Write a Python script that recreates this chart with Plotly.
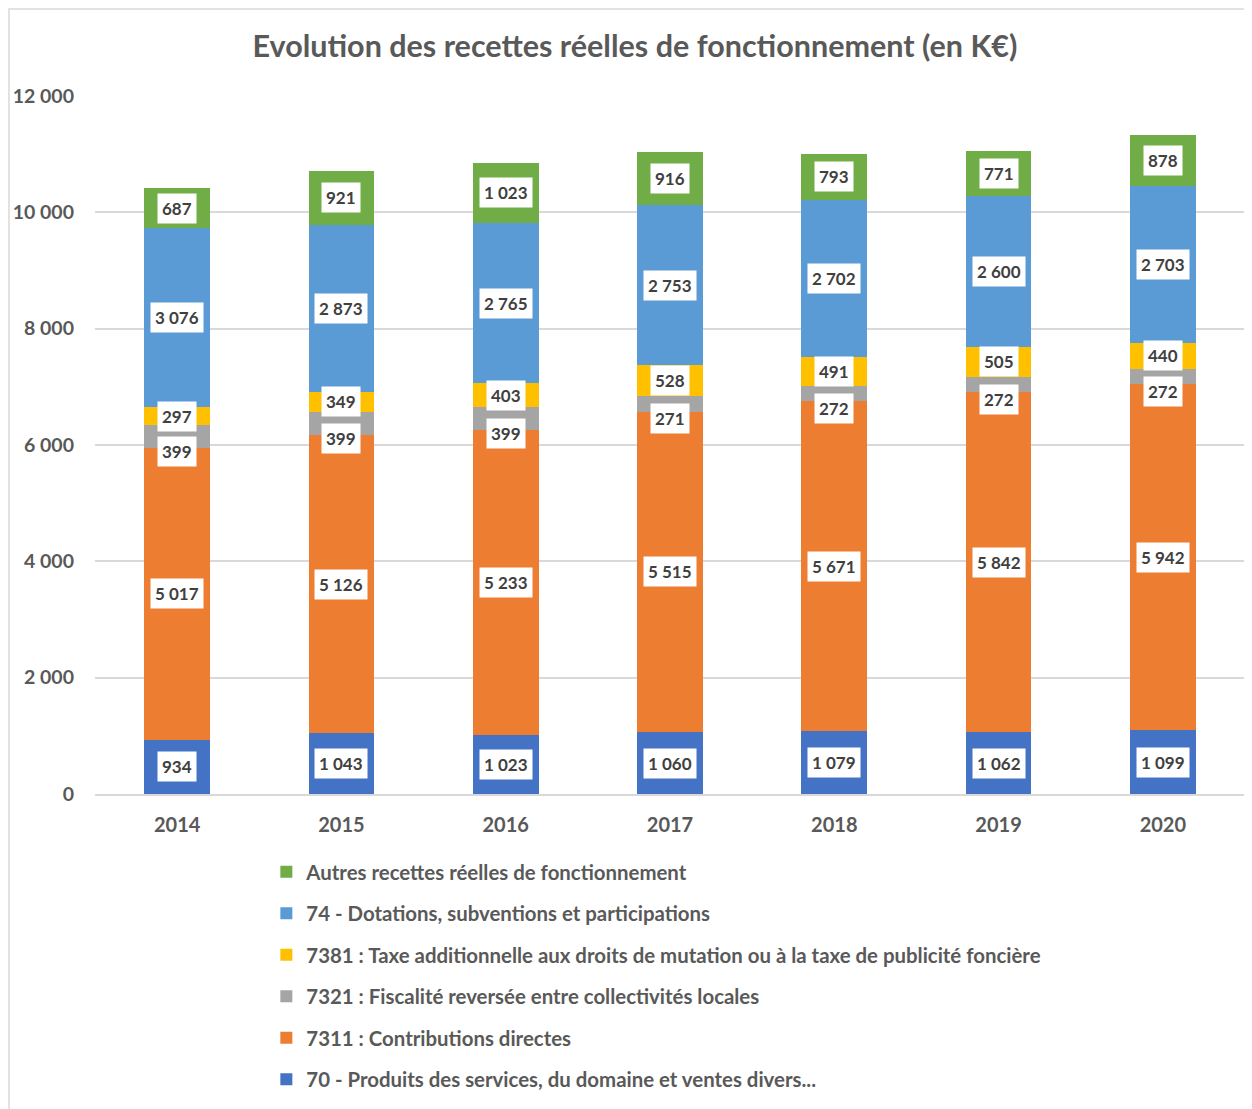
import plotly.graph_objects as go

# Données (en K€)
annees = ['2014', '2015', '2016', '2017', '2018', '2019', '2020']

produits_70 = [934, 1043, 1023, 1060, 1079, 1062, 1099]
contrib_7311 = [5017, 5126, 5233, 5515, 5671, 5842, 5942]
fiscalite_7321 = [399, 399, 399, 271, 272, 272, 272]
taxe_7381 = [297, 349, 403, 528, 491, 505, 440]
dotations_74 = [3076, 2873, 2765, 2753, 2702, 2600, 2703]
autres = [687, 921, 1023, 916, 793, 771, 878]

series = [
    ('70 - Produits des services, du domaine et ventes divers...', produits_70, '#4472C4'),
    ('7311 : Contributions directes', contrib_7311, '#ED7D31'),
    ('7321 : Fiscalité reversée entre collectivités locales', fiscalite_7321, '#A5A5A5'),
    ('7381 : Taxe additionnelle aux droits de mutation ou à la taxe de publicité foncière', taxe_7381, '#FFC000'),
    ('74 - Dotations, subventions et participations', dotations_74, '#5B9BD5'),
    ('Autres recettes réelles de fonctionnement', autres, '#70AD47'),
]

police = 'Lato'
gris_texte = '#595959'


def fmt(v):
    return f'{v:,}'.replace(',', ' ')


fig = go.Figure()
annotations = []
base = [0] * len(annees)

for i, (nom, valeurs, couleur) in enumerate(series):
    fig.add_trace(go.Bar(
        x=annees,
        y=valeurs,
        name=nom,
        legendgroup=str(i),
        legendrank=len(series) - i,
        marker=dict(color=couleur, line=dict(width=0)),
    ))
    # étiquettes dans des cadres blancs (x = numéro de catégorie)
    for j, v in enumerate(valeurs):
        annotations.append(dict(
            x=j,
            y=base[j] + v / 2,
            text=fmt(v),
            showarrow=False,
            bgcolor='white',
            borderpad=4,
            yshift=-15 if i == 2 else 0,
            font=dict(family=police, size=17, color='#404040', weight='bold'),
        ))
        base[j] += v

# cadre du graphique (seuls le haut et la gauche sont visibles)
cadre = dict(
    type='rect', xref='paper', yref='paper',
    x0=-0.0748, x1=1.05, y0=-0.5, y1=1.1246,
    line=dict(color='#D9D9D9', width=1.5),
)

fig.update_layout(
    width=1244,
    height=1101,
    barmode='stack',
    bargap=0.6,
    separators=', ',
    title=dict(
        text='Evolution des recettes réelles de fonctionnement (en K€)',
        font=dict(family=police, size=30.5, color=gris_texte, weight='bold'),
        x=0.504,
        xanchor='center',
        y=0.9655,
        yanchor='middle',
    ),
    margin=dict(l=87, r=7, t=88, b=315),
    paper_bgcolor='white',
    plot_bgcolor='white',
    font=dict(family=police, size=18, color=gris_texte),
    annotations=annotations,
    shapes=[cadre],
    legend=dict(
        orientation='v',
        x=0.149,
        xanchor='left',
        y=-0.083,
        yanchor='top',
        traceorder='grouped',
        tracegroupgap=12,
        font=dict(family=police, size=20.4, color=gris_texte, weight='bold'),
        itemwidth=30,
    ),
)

fig.update_xaxes(
    type='category',
    range=[-0.5, len(annees) - 0.5],
    automargin=False,
    showgrid=False,
    showline=True,
    linecolor='#D9D9D9',
    linewidth=1.5,
    ticks='',
    ticklabelstandoff=12,
    tickfont=dict(family=police, size=20, color=gris_texte, weight='bold'),
)

fig.update_yaxes(
    range=[0, 12000],
    dtick=2000,
    tickformat=',d',
    automargin=False,
    showgrid=True,
    gridcolor='#D9D9D9',
    gridwidth=1.5,
    zeroline=False,
    ticks='',
    ticklabelstandoff=20,
    tickfont=dict(family=police, size=19.5, color=gris_texte, weight='bold'),
)

fig.write_html('out.html')
